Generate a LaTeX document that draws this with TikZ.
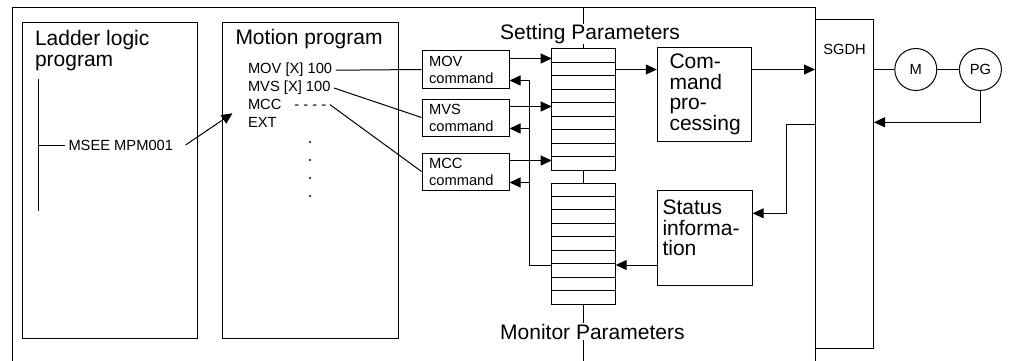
\documentclass[tikz,border=0pt]{standalone}
\usepackage{fontspec}
\setmainfont{Liberation Sans}
\usetikzlibrary{shapes,arrows.meta,positioning,calc}

\begin{document}
\begin{tikzpicture}[x=1pt, y=-1pt, line width=1pt, >={Triangle[length=11pt,width=10pt]},
    lg/.style={font=\fontsize{21}{20.5}\selectfont},
    sm/.style={font=\fontsize{14.7}{17}\selectfont},
    box/.style={rectangle, draw, inner sep=0pt},
    cmd/.style={rectangle, draw, sm, text width=73pt, align=left, inner xsep=7pt, inner ysep=0pt, minimum height=37pt},
    proc/.style={rectangle, draw, lg, text width=70pt, align=left, inner xsep=12.2pt, inner ysep=0pt, minimum height=93.7pt},
    reg/.style={rectangle, draw, minimum width=64pt, minimum height=121pt, inner sep=0pt, outer sep=0pt},
    motor/.style={circle, draw, sm, minimum size=42pt, inner sep=0pt},
    ar/.style={->}]
    \useasboundingbox (0,0) rectangle (1009,361);
    \coordinate (ftop) at (12,8);
    \coordinate (fbot) at (12,361);

    \node [box, minimum width=58pt, minimum height=329pt, anchor=north west] (sgdh) at (815,19) {};
    \node [sm, anchor=base, inner sep=0pt] (sgdhtxt) at ([yshift=-35.5pt]sgdh.north) {SGDH};
    \draw (fbot) -- (ftop) -| (sgdh.west |- fbot);

    \node [box, minimum width=175pt, minimum height=316pt, anchor=north west] (ladder) at (22,22) {};
    \node [lg, align=left, inner sep=0pt, anchor=north west] (laddertitle) at (34.5,30) {Ladder logic\\program};
    \node [box, minimum width=175.7pt, minimum height=316pt, anchor=north west] (motion) at (222,22) {};
    \node [lg, inner sep=0pt, anchor=north west] (motiontitle) at (235,28.5) {Motion program};

    \coordinate (rt) at (38,79);
    \coordinate (rb) at (38,211);
    \node [sm, anchor=west, inner sep=3pt] (msee) at (65,145) {MSEE MPM001};
    \draw (rt) -- (rb);
    \draw (rt |- msee) -- (msee.west);

    \node [sm, anchor=base west, inner sep=3pt] (mov) at (244.5,74) {MOV [X] 100};
    \node [sm, anchor=base west, inner sep=3pt] (mvs) at (244.5,91.8) {MVS [X] 100};
    \node [sm, anchor=base west, inner sep=3pt] (mcc) at (244.5,109.6) {MCC\hspace{13pt}- - - -};
    \node [sm, anchor=base west, inner sep=3pt] (ext) at (244.5,127.4) {EXT};
    \foreach \y in {142,160,178,196}
        \fill (310,\y) circle (1.2pt);
    \draw [ar] ([xshift=9pt]msee.east) -- ([xshift=-12pt]mcc.south west);

    \node [cmd] (movcmd) at (465.5,69.5) {MOV\\command};
    \node [cmd, below=10pt of movcmd] (mvscmd) {MVS\\command};
    \node [cmd, below=16pt of mvscmd] (mcccmd) {MCC\\command};
    \draw (mov.east) -- (movcmd.west);
    \draw (mvs.east) -- (mvscmd.west);
    \draw (mcc.east) -- (mcccmd.west);

    \node [reg] (regup) at (583.7,109.5) {};
    \node [reg, below=13pt of regup] (reglo) {};
    \foreach \r in {regup,reglo}
        \foreach \i in {1,...,8}
            \draw ($(\r.north west)!\i/9!(\r.south west)$) -- ($(\r.north east)!\i/9!(\r.south east)$);

    \node [lg, anchor=base west, inner sep=0pt] (setp) at (499.7,39.5) {Setting Parameters};
    \node [lg, anchor=base west, inner sep=0pt] (monp) at (499.7,339) {Monitor Parameters};
    \draw (regup.north |- ftop) -- (regup.north |- setp.north);
    \draw (regup.north |- setp.south) -- (regup.north);
    \draw (regup.south) -- (reglo.north);
    \draw (reglo.south) -- (reglo.south |- monp.north);
    \draw (reglo.south |- monp.south) -- (reglo.south |- fbot);

    \foreach \c in {movcmd,mvscmd,mcccmd} {
        \draw [ar] ([yshift=-8pt]\c.north east) coordinate (o) -- (o -| regup.west);
        \coordinate (\c-ret) at ([yshift=8pt]\c.south east);
    }

    \node [proc] (cp) at (704.5,94.2) {Com-\\mand\\pro-\\cessing};
    \node [box, minimum width=94.4pt, minimum height=95pt, anchor=north west] (stat) at (657.3,190) {};
    \node [lg, align=left, inner sep=0pt, anchor=north west] (stattxt) at (662,199.7) {Status\\informa-\\tion};

    \draw [ar] ([yshift=21pt]stat.south west) coordinate (si) -- (si -| reglo.east);
    \draw (si -| reglo.west) -- ++(-22,0) coordinate (bus) -- (bus |- movcmd-ret);
    \foreach \c in {movcmd,mvscmd,mcccmd}
        \draw [ar] (bus |- \c-ret) -- (\c-ret);

    \node [motor] (m) at (915.8,69.5) {M};
    \node [motor, right=21.6pt of m] (pg) {PG};

    \draw [ar] (regup.east |- m) -- (cp.west |- m);
    \draw [ar] (cp.east |- m) -- (sgdh.west |- m);
    \draw (sgdh.east |- m) -- (m);
    \draw (m) -- (pg);
    \draw [ar] (pg.south) |- ([yshift=-103.3pt]sgdh.north east);
    \draw [ar] ([yshift=-105.3pt]sgdh.north west) -- ++(-28.3,0) |- ([yshift=-23.3pt]stat.north east);
\end{tikzpicture}
\end{document}
